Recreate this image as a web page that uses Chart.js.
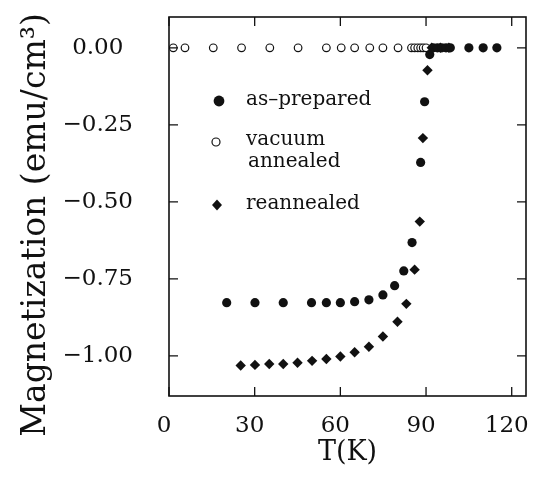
<!DOCTYPE html>
<html>
<head>
<meta charset="utf-8">
<script src="https://cdn.jsdelivr.net/npm/chart.js@4"></script>
<style>
  html, body { margin: 0; padding: 0; background: #fff; }
  #wrap { width: 537px; height: 479px; }
</style>
</head>
<body>
<div id="wrap"><canvas id="mag"></canvas></div>
<script>
// values, T in K, M in emu/cm^3
const asPreparedT = [20.2, 30.1, 40, 49.9, 55.1, 60, 65, 70, 74.9, 79, 82.2, 85.1, 88.1, 89.5, 91.3, 92.5, 94, 95.5, 97, 98.5, 105, 110, 114.8];
const asPreparedM = [-0.827, -0.827, -0.827, -0.827, -0.827, -0.827, -0.824, -0.818, -0.802, -0.772, -0.724, -0.632, -0.372, -0.175, -0.022, 0, 0, 0, 0, 0, 0, 0, 0];

const vacuumT = [1.5, 5.6, 15.5, 25.4, 35.3, 45.2, 55.1, 60.3, 65, 70.3, 74.9, 80.2, 84.9, 86, 87.1, 88.1, 89, 90];
const vacuumM = [0, 0, 0, 0, 0, 0, 0, 0, 0, 0, 0, 0, 0, 0, 0, 0, 0, 0];

const reannealedT = [25.1, 30.1, 35.1, 40, 45, 50.1, 55.1, 60, 65, 70, 74.9, 80, 83.1, 86, 87.8, 88.9, 90.5, 92, 95, 98];
const reannealedM = [-1.031, -1.029, -1.026, -1.026, -1.022, -1.016, -1.010, -1.002, -0.988, -0.970, -0.937, -0.889, -0.831, -0.720, -0.564, -0.293, -0.073, 0, 0, 0];

const xTicks = [0, 30, 60, 90, 120];
const yTicks = [0, -0.25, -0.5, -0.75, -1];

const legendItems = ['as\u2013prepared', 'vacuum', 'annealed', 'reannealed'];
const yTitle = 'Magnetization (emu/cm\u00b3)';

const serif = '"DejaVu Serif", serif';

function pts(xs, ys) {
    return xs.map(function(x, i) { return {x: x, y: ys[i]}; });
}

// pin the plot box, chart.js would otherwise pad for the end labels
function pinScale(s, key, size) {
    s[key] = size;
    s.paddingTop = 0; s.paddingBottom = 0;
    s.paddingLeft = 0; s.paddingRight = 0;
}

// frame with inward ticks on all four sides, legend, y title
const framePlugin = {
    id: 'frame',
    afterDraw: function(chart) {
        const ctx = chart.ctx;
        const a = chart.chartArea;
        const sx = chart.scales.x, sy = chart.scales.y;
        const len = 9;
        ctx.save();
        ctx.strokeStyle = '#111';
        ctx.lineWidth = 1.6;
        ctx.strokeRect(a.left, a.top, a.right - a.left, a.bottom - a.top);
        ctx.lineWidth = 1.3;
        ctx.beginPath();
        xTicks.forEach(function(v) {
            const px = sx.getPixelForValue(v);
            ctx.moveTo(px, a.bottom); ctx.lineTo(px, a.bottom - len);
            ctx.moveTo(px, a.top); ctx.lineTo(px, a.top + len);
        });
        yTicks.forEach(function(v) {
            const py = sy.getPixelForValue(v);
            ctx.moveTo(a.left, py); ctx.lineTo(a.left + len, py);
            ctx.moveTo(a.right, py); ctx.lineTo(a.right - len, py);
        });
        ctx.stroke();

        // legend
        ctx.fillStyle = '#111';
        ctx.beginPath(); ctx.arc(219, 101, 5.4, 0, Math.PI * 2); ctx.fill();
        ctx.beginPath(); ctx.lineWidth = 1.2; ctx.arc(216, 142, 4, 0, Math.PI * 2); ctx.stroke();
        ctx.beginPath();
        ctx.moveTo(217, 199.5); ctx.lineTo(222, 205); ctx.lineTo(217, 210.5); ctx.lineTo(212, 205);
        ctx.closePath(); ctx.fill();
        ctx.font = '20px ' + serif;
        ctx.textBaseline = 'middle';
        ctx.fillText(legendItems[0], 246, 100);
        ctx.fillText(legendItems[1], 246, 140);
        ctx.fillText(legendItems[2], 248, 162);
        ctx.fillText(legendItems[3], 246, 204);

        // y axis title, sits lower than the plot centre in the original
        ctx.translate(36, 225);
        ctx.rotate(-Math.PI / 2);
        ctx.font = '33px ' + serif;
        ctx.textAlign = 'center';
        ctx.fillText(yTitle, 0, 0);
        ctx.restore();
    }
};

function minus(v) {
    return String(v).replace('-', '\u2212');
}

new Chart(document.getElementById('mag'), {
    type: 'scatter',
    data: {
        datasets: [
            {
                label: 'as-prepared',
                data: pts(asPreparedT, asPreparedM),
                pointStyle: 'circle',
                pointRadius: 4.6,
                backgroundColor: '#111',
                borderColor: '#111',
                borderWidth: 0,
                order: 1
            },
            {
                label: 'reannealed',
                data: pts(reannealedT, reannealedM),
                pointStyle: 'rectRot',
                pointRadius: 5.2,
                backgroundColor: '#111',
                borderColor: '#111',
                borderWidth: 0,
                order: 2
            },
            {
                label: 'vacuum annealed',
                data: pts(vacuumT, vacuumM),
                pointStyle: 'circle',
                pointRadius: 3.8,
                backgroundColor: '#fff',
                borderColor: '#111',
                borderWidth: 1.2,
                order: 3
            }
        ]
    },
    options: {
        responsive: true,
        maintainAspectRatio: false,
        animation: false,
        events: [],
        layout: { autoPadding: false, padding: { top: 17, right: 11, left: 0, bottom: 0 } },
        plugins: {
            legend: { display: false },
            tooltip: { enabled: false }
        },
        scales: {
            x: {
                type: 'linear',
                min: 0,
                max: 125,
                afterFit: function(s) { pinScale(s, 'height', 83); },
                afterBuildTicks: function(s) { s.ticks = xTicks.map(function(v) { return {value: v}; }); },
                grid: { display: false },
                border: { display: false },
                ticks: {
                    color: '#111',
                    padding: 8,
                    labelOffset: -5,
                    maxRotation: 0,
                    font: { family: serif, size: 23 },
                    callback: function(v) { return minus(v); }
                },
                title: {
                    display: true,
                    text: 'T(K)',
                    color: '#111',
                    padding: { top: 0, bottom: 10 },
                    font: { family: serif, size: 27 }
                }
            },
            y: {
                type: 'linear',
                min: -1.13,
                max: 0.1,
                afterFit: function(s) { pinScale(s, 'width', 169); },
                afterBuildTicks: function(s) { s.ticks = yTicks.map(function(v) { return {value: v}; }); },
                grid: { display: false },
                border: { display: false },
                ticks: {
                    color: '#111',
                    padding: 28,
                    crossAlign: 'center',
                    font: { family: serif, size: 23 },
                    callback: function(v) { return minus(v.toFixed(2)); }
                }
            }
        }
    },
    plugins: [framePlugin]
});
</script>
</body>
</html>
